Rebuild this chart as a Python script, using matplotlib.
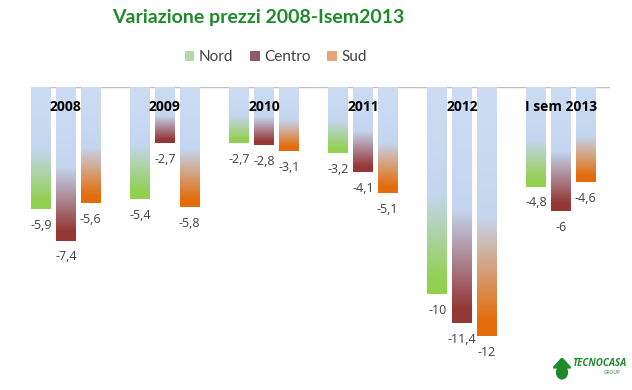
import numpy as np
import matplotlib
matplotlib.use("Agg")
import matplotlib.pyplot as plt
from matplotlib.colors import LinearSegmentedColormap
from matplotlib.patches import Patch, Polygon, Circle

# data
periods = ["2008", "2009", "2010", "2011", "2012", "I sem 2013"]
series = ["Nord", "Centro", "Sud"]
nord = [-5.9, -5.4, -2.7, -3.2, -10, -4.8]
centro = [-7.4, -2.7, -2.8, -4.1, -11.4, -6]
sud = [-5.6, -5.8, -3.1, -5.1, -12, -4.6]
values = [nord, centro, sud]

bar_colors = ["#92d050", "#953735", "#e46c0a"]
top_blue = "#c4d6ef"

plt.rcParams['font.family'] = ['Open Sans', 'DejaVu Sans']

fig = plt.figure(figsize=(6.32, 3.90), dpi=100)
ax = fig.add_axes([32/632, 30/390, 578/632, 273/390])

x = np.arange(len(periods))
step = 0.25
width = 0.20

def grad_cmap(col):
    return LinearSegmentedColormap.from_list(
        "g", [(0.0, "#cddcf2"), (0.52, top_blue), (0.94, col), (1.0, col)])

for k, (vals, col) in enumerate(zip(values, bar_colors)):
    bars = ax.bar(x + (k - 1) * step, vals, width, color="none", edgecolor="none")
    cmap = grad_cmap(col)
    grad = np.linspace(0, 1, 256).reshape(-1, 1)
    for b, v in zip(bars, vals):
        x0 = b.get_x()
        im = ax.imshow(grad, cmap=cmap, aspect="auto", origin="upper",
                       extent=[x0, x0 + b.get_width(), v, 0], zorder=2)
        im.set_clip_path(b)
        lab = ("%g" % v).replace(".", ",")
        ax.annotate(lab, (b.get_x() + b.get_width() / 2, v), xytext=(0, -7),
                    textcoords="offset points", ha="center", va="top",
                    fontsize=9, color="#404040")

for xi, p in zip(x, periods):
    ax.text(xi, -0.95, p, ha="center", va="center", fontsize=10,
            fontweight="bold", color="black", zorder=3)

ax.set_xlim(-0.343, 5.495)
ax.set_ylim(-13.16, 0)
ax.axhline(0, color="#bfbfbf", lw=1, zorder=1)
ax.set_axis_off()

fig.text(258/632, 0.955, "Variazione prezzi 2008-Isem2013", ha="center", va="center",
         fontsize=14, fontweight="bold", color="#1e8a2a", family=["Lato", "DejaVu Sans"])

legend_cols = ["#b5d8a6", "#8c5a6a", "#e8a57a"]
handles = [Patch(facecolor=c, edgecolor="none") for c in legend_cols]
fig.legend(handles, series, loc="center", bbox_to_anchor=(276/632, 0.853), ncol=3,
           frameon=False, prop={"family": ["Lato", "DejaVu Sans"], "size": 11},
           handlelength=0.6, handleheight=0.6, handletextpad=0.3,
           columnspacing=1.1, labelcolor="#404040")

# logo
lax = fig.add_axes([553/632, 10/390, 18/632, 22/390])
lax.set_xlim(0, 1)
lax.set_ylim(0, 1)
lax.add_patch(Polygon([[0, 0.55], [0.5, 1.0], [1.0, 0.55]], color="#1e8a2a"))
lax.add_patch(Circle((0.5, 0.35), 0.3, color="#1e8a2a"))
lax.set_axis_off()
fig.text(572/632, 26/390, "TECNOCASA", ha="left", va="center", fontsize=7,
         fontweight="bold", style="italic", color="#1e8a2a")
fig.text(612/632, 17/390, "GROUP", ha="center", va="center", fontsize=3.5,
         color="#1e8a2a")

fig.savefig("out.png", dpi=100)
